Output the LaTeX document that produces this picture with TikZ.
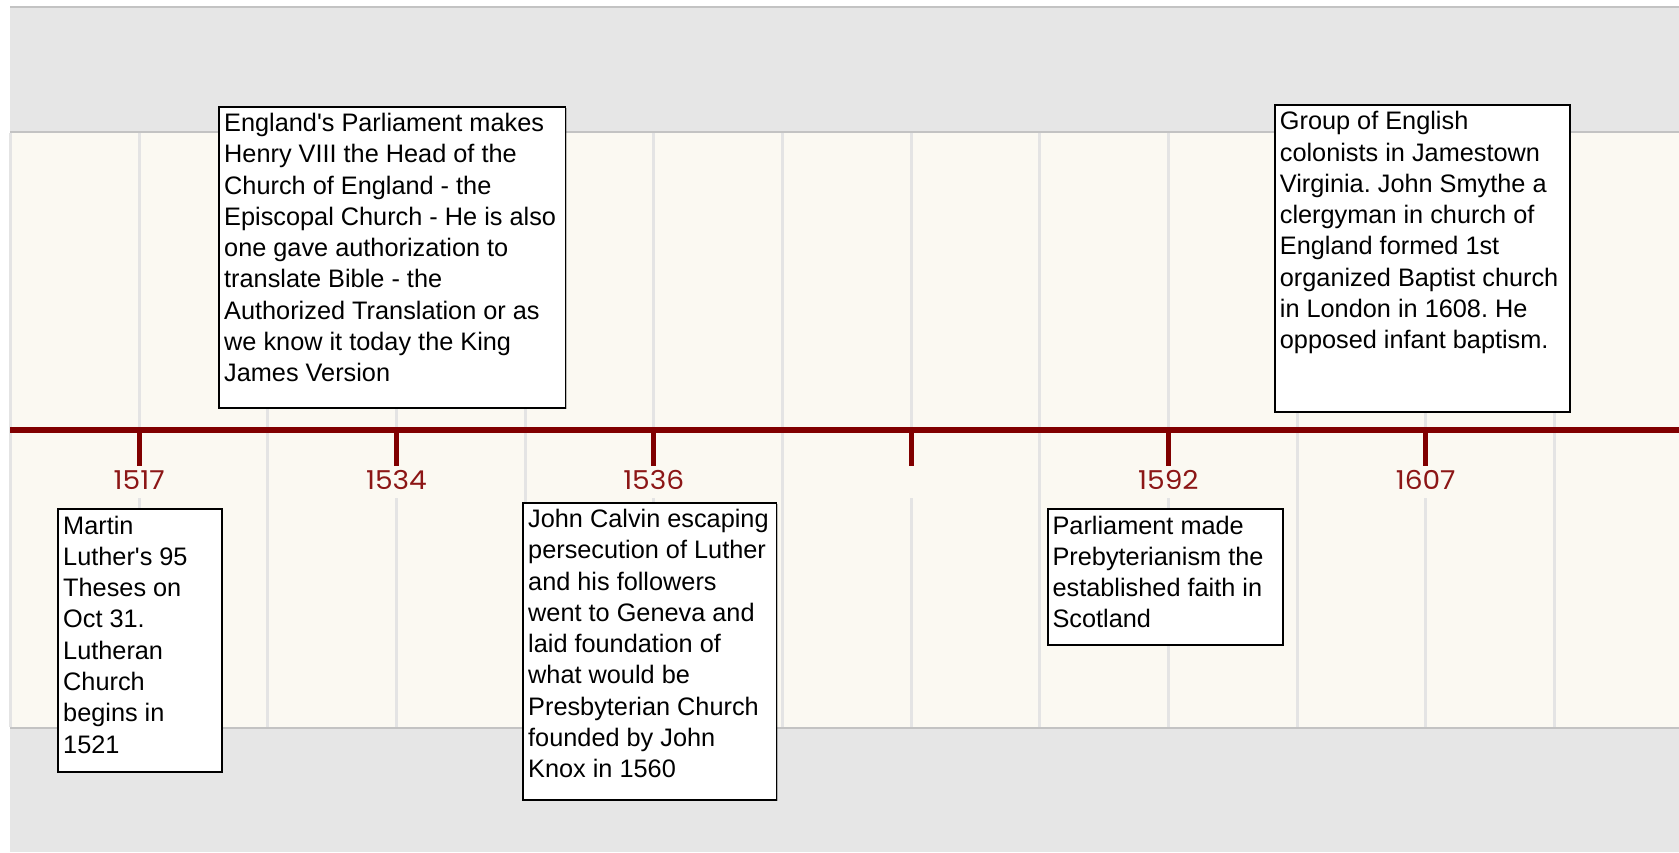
\documentclass[tikz,border=0pt]{standalone}
\usepackage{fontspec}
\usepackage{graphicx}
\usetikzlibrary{shadows}
\newfontfamily\boxfont{Liberation Sans}
\newfontfamily\yearfont{Poppins}
\definecolor{bandgrey}{RGB}{230,230,230}
\definecolor{bandline}{RGB}{195,195,195}
\definecolor{cream}{RGB}{251,249,242}
\definecolor{gridgrey}{RGB}{228,228,228}
\definecolor{axisred}{RGB}{128,0,0}
\definecolor{yearred}{RGB}{140,22,22}
\newcommand\evtext[3]{\parbox[c][#2][t]{#1}{\frenchspacing\raggedright\strut#3}}
\newcommand\yr[1]{\scalebox{1.08}[1]{#1}}
\tikzset{
  evbox/.style={draw=black, line width=1.8pt, fill=white, inner xsep=5pt, inner ysep=2.9pt,
    anchor=north west, font=\boxfont\fontsize{25.3}{31.3}\selectfont, text=black,
    drop shadow={shadow xshift=1.2pt, shadow yshift=-1.2pt, fill=black, opacity=0.25}},
  yearlbl/.style={anchor=base, inner sep=0pt, text=yearred, font=\yearfont\fontsize{26}{26}\selectfont},
  gridline/.style={draw=gridgrey, line width=3pt},
  tickmark/.style={draw=axisred, line width=5pt},
}
\begin{document}
\begin{tikzpicture}[x=1pt,y=-1pt]
\useasboundingbox[fill=white] (0,0) rectangle (1679,852);
% bands
\fill[bandgrey] (10,7) rectangle (1679,132);
\fill[cream] (10,132) rectangle (1679,728);
\fill[bandgrey] (10,728) rectangle (1679,852);
\draw[bandline, line width=2.5pt] (10,7) -- (1679,7);
\draw[bandline, line width=2pt] (10,132) -- (1679,132);
\draw[bandline, line width=2.5pt] (10,728) -- (1679,728);
% grid
\foreach \k in {0,2,4,6,8,10,12}{
  \draw[gridline] ({10.5+128.65*\k},133) -- ({10.5+128.65*\k},727);
}
\foreach \k in {1,3,5,7,9,11}{
  \draw[gridline] ({10.5+128.65*\k},133) -- ({10.5+128.65*\k},466);
  \draw[gridline] ({10.5+128.65*\k},498) -- ({10.5+128.65*\k},727);
}
% axis
\coordinate (a0) at (10,430.3);
\coordinate (a1) at (1679,430.3);
\draw[axisred, line width=6pt] (a0) -- (a1);
\foreach \k/\n in {1/t1,3/t2,5/t3,7/t4,9/t5,11/t6}{
  \coordinate (\n) at ({10.5+128.65*\k},430.3);
  \draw[tickmark] (\n) -- ++(0,35.5);
}
% year labels
\node[yearlbl] (y1) at ({10.5+128.65*1},489.3) {\yr{1517}};
\node[yearlbl] (y2) at ({10.5+128.65*3},489.3) {\yr{1534}};
\node[yearlbl] (y3) at ({10.5+128.65*5},489.3) {\yr{1536}};
\node[yearlbl] (y5) at ({10.5+128.65*9},489.3) {\yr{1592}};
\node[yearlbl] (y6) at ({10.5+128.65*11},489.3) {\yr{1607}};
% event boxes
\node[evbox] (b1) at (57.3,508.3) {\evtext{153.4pt}{256.9pt}{Martin\\Luther's 95\\Theses on\\Oct 31.\\Lutheran\\Church\\begins in\\1521}};
\node[evbox] (b2) at (218.3,105.7) {\evtext{336.2pt}{295.8pt}{England's Parliament makes\\Henry VIII the Head of the\\Church of England - the\\Episcopal Church - He is also\\one gave authorization to\\translate Bible - the\\Authorized Translation or as\\we know it today the King\\James Version}};
\node[evbox] (b3) at (522.3,501.7) {\evtext{243.2pt}{291.5pt}{John Calvin escaping\\persecution of Luther\\and his followers\\went to Geneva and\\laid foundation of\\what would be\\Presbyterian Church\\founded by John\\Knox in 1560}};
\node[evbox] (b4) at (1046.7,508.3) {\evtext{225.1pt}{129.9pt}{Parliament made\\Prebyterianism the\\established faith in\\Scotland}};
\node[evbox] (b5) at (1274,104) {\evtext{284.8pt}{301.2pt}{Group of English\\colonists in Jamestown\\Virginia. John Smythe a\\clergyman in church of\\England formed 1st\\organized Baptist church\\in London in 1608. He\\opposed infant baptism.}};
\end{tikzpicture}
\end{document}
